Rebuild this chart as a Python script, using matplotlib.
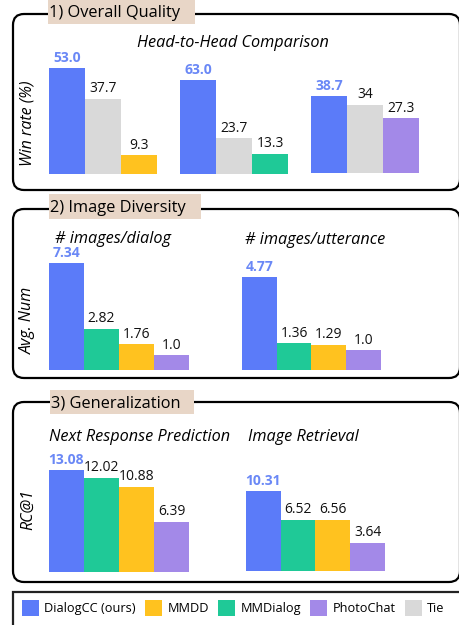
import matplotlib.pyplot as plt
from matplotlib.patches import FancyBboxPatch, Rectangle, Patch

plt.rcParams['font.family'] = ['Open Sans', 'DejaVu Sans']

W, H = 460, 625

BLUE = '#5b7bf9'
YELLOW = '#ffc21f'
GREEN = '#1fc997'
PURPLE = '#a389e8'
GRAY = '#d9d9d9'
TAN = '#e8d6c7'
BLUE_TXT = '#6a88f6'

# 1) overall quality: DialogCC vs Tie vs other dataset
quality_vals = [[53.0, 37.7, 9.3], [63.0, 23.7, 13.3], [38.7, 34, 27.3]]
quality_labels = [['53.0', '37.7', '9.3'], ['63.0', '23.7', '13.3'], ['38.7', '34', '27.3']]
quality_colors = [[BLUE, GRAY, YELLOW], [BLUE, GRAY, GREEN], [BLUE, GRAY, PURPLE]]

# 2) image diversity: DialogCC, MMDialog, MMDD, PhotoChat
div_dialog = [7.34, 2.82, 1.76, 1.0]
div_dialog_lbl = ['7.34', '2.82', '1.76', '1.0']
div_utt = [4.77, 1.36, 1.29, 1.0]
div_utt_lbl = ['4.77', '1.36', '1.29', '1.0']

# 3) generalization (RC@1)
gen_nrp = [13.08, 12.02, 10.88, 6.39]
gen_nrp_lbl = ['13.08', '12.02', '10.88', '6.39']
gen_ir = [10.31, 6.52, 6.56, 3.64]
gen_ir_lbl = ['10.31', '6.52', '6.56', '3.64']
four_colors = [BLUE, GREEN, YELLOW, PURPLE]

legend_names = ['DialogCC (ours)', 'MMDD', 'MMDialog', 'PhotoChat', 'Tie']
legend_colors = [BLUE, YELLOW, GREEN, PURPLE, GRAY]

fig = plt.figure(figsize=(W / 100, H / 100), dpi=100)

# background axes in pixel coords (y down)
bg = fig.add_axes([0, 0, 1, 1])
bg.set_xlim(0, W)
bg.set_ylim(H, 0)
bg.axis('off')


def panel(top, bottom, title, tan_box):
    box = FancyBboxPatch((13, top), 447, bottom - top,
                         boxstyle='round,pad=0,rounding_size=11',
                         fc='white', ec='black', lw=1.6, clip_on=False)
    bg.add_patch(box)
    x0, y0, x1, y1 = tan_box
    bg.add_patch(Rectangle((x0, y0), x1 - x0, y1 - y0, fc=TAN, ec='none', zorder=3))
    bg.text(x0 + 1, (y0 + y1) / 2 + 1, title, fontsize=11.8, va='center', ha='left', zorder=4)


panel(14, 190, '1) Overall Quality', (48, 0, 195, 24))
panel(209, 378, '2) Image Diversity', (49, 194, 201, 219))
panel(402, 582, '3) Generalization', (50, 390, 194, 414))

# legend frame
bg.add_patch(Rectangle((13, 592), 460, 60, fc='white', ec='#222222', lw=1.6, clip_on=False))

ylab = dict(rotation=90, style='italic', fontsize=11.5, ha='center', va='center')
bg.text(28, 123, 'Win rate (%)', **ylab)
bg.text(28, 320, 'Avg. Num', **ylab)
bg.text(28, 510, 'RC@1', **ylab)

sub = dict(style='italic', fontsize=11.7, va='center')
bg.text(233, 43, 'Head-to-Head Comparison', ha='center', **sub)
bg.text(55, 239, '# images/dialog', ha='left', **sub)
bg.text(245, 240, '# images/utterance', ha='left', **sub)
bg.text(49, 437, 'Next Response Prediction', ha='left', **sub)
bg.text(248, 437, 'Image Retrieval', ha='left', **sub)


def bar_group(x, bottom, width, scale, vals, labels, colors):
    h = 130
    ax = fig.add_axes([x / W, 1 - bottom / H, width / W, h / H])
    ax.patch.set_alpha(0)
    n = len(vals)
    pos = list(range(n))
    ax.bar(pos, vals, width=1.0, color=colors)
    ax.set_xlim(-0.5, n - 0.5)
    ax.set_ylim(0, h / scale)
    ax.axis('off')
    for i, (v, s) in enumerate(zip(vals, labels)):
        if i == 0:
            ax.annotate(s, (i, v), xytext=(0, 2), textcoords='offset points',
                        ha='center', va='bottom', fontsize=10, color=BLUE_TXT, fontweight='bold')
        else:
            ax.annotate(s, (i, v), xytext=(0, 2), textcoords='offset points',
                        ha='center', va='bottom', fontsize=10, color='#111111')
    return ax


bar_group(49, 174, 108, 2.0, quality_vals[0], quality_labels[0], quality_colors[0])
bar_group(180, 174, 108, 1.5, quality_vals[1], quality_labels[1], quality_colors[1])
bar_group(311, 173, 108, 2.0, quality_vals[2], quality_labels[2], quality_colors[2])

bar_group(49, 370, 140, 14.6, div_dialog, div_dialog_lbl, four_colors)
bar_group(242, 370, 139, 19.6, div_utt, div_utt_lbl, four_colors)

bar_group(49, 572, 140, 7.8, gen_nrp, gen_nrp_lbl, four_colors)
bar_group(246, 571, 139, 7.8, gen_ir, gen_ir_lbl, four_colors)

handles = [Patch(fc=c, ec='none') for c in legend_colors]
fig.legend(handles, legend_names, loc='upper left', bbox_to_anchor=(22 / W, 1 - 600 / H),
           ncol=5, frameon=False, fontsize=9.2, handlelength=1.3, handleheight=1.5,
           handletextpad=0.45, columnspacing=0.72, borderpad=0, borderaxespad=0)

fig.savefig('out.png', dpi=100)
